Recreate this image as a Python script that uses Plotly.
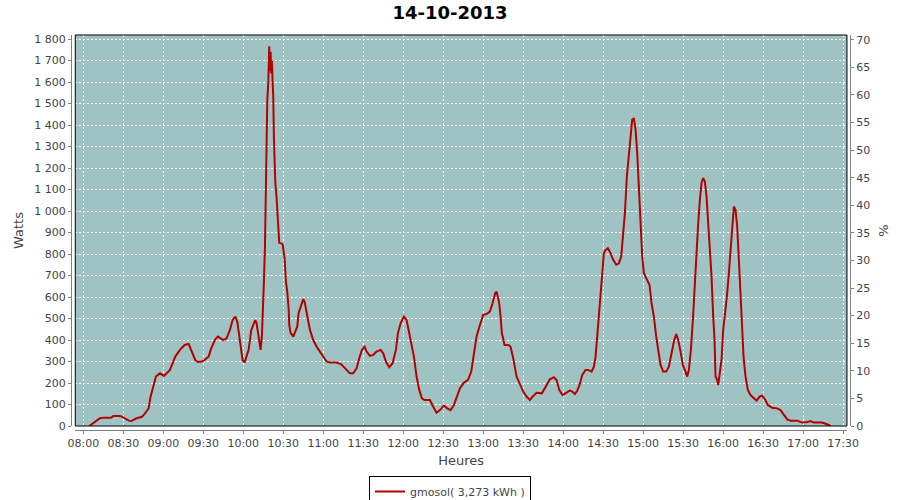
import pandas as pd
import plotly.graph_objects as go

# Time of each reading, in minutes after 08:00 on 14-10-2013
times_min = [
    4.5, 7.5, 12.5, 15, 21, 22.5, 27.5, 30, 34, 36, 40, 44, 46, 49, 50.5, 52.5, 54.5, 57.5,
    60.5, 65, 69, 72.5, 76, 79, 81, 84, 86, 89, 91, 94, 96, 99, 101, 105, 107.5, 110, 112,
    114, 115.5, 117.5, 119.5, 121, 124, 126, 129, 130, 132, 133, 134, 134.5, 135.5, 136.3,
    136.8, 137.5, 138, 138.8, 139.5, 140, 140.5, 141, 141.5, 142, 142.5, 143, 144, 145,
    146, 146.5, 147, 149.5, 150.5, 151, 152, 153, 154, 154.5, 155.5, 157.5, 159, 160.5,
    161.5, 163, 165, 166, 168, 170, 172.5, 175, 177.5, 180, 182.5, 185, 190, 193.5, 197.5,
    200, 202.5, 205, 207, 209, 211, 212.5, 215, 217.5, 220, 223, 225, 227, 229.5, 232,
    234.5, 236, 238, 240.5, 242.5, 244.5, 246, 248, 250, 252, 254, 256, 260, 262.5, 265,
    267.5, 270.5, 273, 275.5, 278, 280, 282.5, 285.5, 288.5, 291, 293, 295, 297.5, 300,
    302.5, 305, 307, 309, 310, 312, 313, 314, 316, 319, 320.5, 322.5, 325, 327.5, 330,
    332.5, 335, 337.5, 340, 344, 346, 350, 353, 355, 357, 359.5, 362.5, 365, 366.75,
    368.75, 370.5, 372.25, 374.25, 376.75, 378.75, 381.25, 383, 384.25, 385.5, 386.75,
    388, 389.25, 390.5, 391.75, 393.5, 395.5, 397.5, 399.75, 401.75, 403.5, 404.75,
    406.25, 407.75, 409.25, 410.5, 411.75, 413, 414.25, 415.5, 416.75, 418, 419.25,
    420.5, 423, 424.75, 426.25, 428, 429.75, 431.25, 433, 435, 437.25, 439.25, 441.25,
    443.25, 444.75, 446.25, 448, 449.75, 451.75, 453, 454.25, 455.75, 457.25, 458.75,
    460, 461.25, 462.5, 463.75, 465, 466.25, 467.5, 468.75, 470, 471.25, 472.5, 473.5,
    474.25, 475.5, 476.25, 477.25, 478.75, 480, 481.25, 482.75, 484.25, 485.75, 486.75,
    488, 489.25, 490.5, 491.75, 493, 494.25, 495.25, 496.75, 498.5, 500.5, 503, 505,
    507.25, 509.25, 511.25, 513.5, 516.75, 520.5, 523, 525.5, 528, 530.5, 535.5, 539.25,
    542.25, 545.5, 548, 554.25, 556.75, 559.25, 560.5,
]

# Power in watts
watts = [
    0, 15, 36, 39, 39, 47, 47, 40, 25, 23, 36, 43, 56, 82, 137, 183, 230, 245,
    233, 261, 323, 354, 377, 382, 354, 307, 298, 300, 307, 323, 362, 403, 416, 400, 408, 447, 493,
    509, 486, 400, 307, 296, 354, 447, 493, 478, 377, 354, 420, 549, 672, 843,
    1122, 1387, 1510, 1603, 1766, 1650, 1740, 1640, 1700, 1600, 1533, 1341, 1137, 1061,
    968, 881, 852, 847, 811, 780, 672, 625, 549, 470, 433, 416, 439, 462,
    525, 556, 590, 579, 509, 447, 400, 369, 346, 323, 300, 295, 295, 287, 261,
    245, 245, 268, 315, 354, 369, 346, 326, 331, 346, 354, 338, 300, 273, 292,
    354, 431, 478, 509, 493, 439, 385, 323, 230, 168, 129, 121, 121, 90, 62,
    74, 95, 82, 74, 98, 137, 175, 202, 214, 253, 331, 416, 470, 517,
    521, 532, 571, 618, 625, 571, 509, 431, 377, 377, 369, 315, 230, 191, 160,
    137, 121, 140, 155, 152, 175, 217, 227, 214, 168, 144, 155, 165, 160,
    149, 164, 191, 237, 261, 261, 253, 276, 323, 416, 525,
    618, 711, 804, 819, 827, 804, 773, 750, 757, 788, 881,
    990, 1161, 1254, 1347, 1425, 1432, 1378, 1269, 1099, 928, 788,
    711, 680, 656, 571, 509, 416, 354, 284, 253, 253, 276, 338,
    400, 428, 400, 346, 284, 253, 230, 261, 354, 493, 664,
    835, 943, 1052, 1130, 1153, 1137, 1068, 943, 835, 695, 509, 400,
    230, 214, 191, 230, 307, 447, 509, 602, 711, 850, 912,
    1021, 1006, 928, 773, 602, 447, 323, 230, 168, 144, 129, 118,
    137, 141, 124, 98, 85, 82, 74, 51, 31, 25, 25, 16,
    17, 23, 16, 16, 12, 5, 0,
]

series_name = "gmosol( 3,273 kWh )"
chart_title = "14-10-2013"
day_start = "2013-10-14 08:00:00"
x_start = "2013-10-14 07:54:00"
x_end = "2013-10-14 17:32:50"
watts_max = 1818.6
percent_max = 70.85

t0 = pd.Timestamp(day_start)
times = [t0 + pd.Timedelta(minutes=m) for m in times_min]

font_family = "DejaVu Sans"
label_color = "#444444"
axis_gray = "#808080"

fig = go.Figure()
fig.add_trace(go.Scatter(
    x=times, y=watts, mode="lines", name=series_name,
    line=dict(color="#B40000", width=2),
    showlegend=True,
))
# invisible trace to carry the right-hand % axis
fig.add_trace(go.Scatter(
    x=[times[0]], y=[0], yaxis="y2", mode="lines", showlegend=False,
    line=dict(color="rgba(0,0,0,0)"), hoverinfo="skip",
))

fig.update_layout(
    width=900, height=500,
    margin=dict(l=71, r=50, t=35, b=70, autoexpand=False),
    paper_bgcolor="white",
    plot_bgcolor="#9FC3C2",
    separators=", ",
    font=dict(family=font_family, size=11, color=label_color),
    title=dict(text=chart_title, x=0.5, xref="container", xanchor="center",
               y=0.974, yref="container", yanchor="middle",
               font=dict(family=font_family, size=18, color="black", weight="bold")),
    xaxis=dict(
        domain=[0.0055, 0.9961],
        anchor="free", position=0,
        type="date",
        range=[x_start, x_end],
        tick0=day_start, dtick=30 * 60 * 1000,
        tickformat="%H:%M",
        showgrid=True, gridcolor="white", griddash="2px,2px", gridwidth=1,
        showline=True, linecolor=axis_gray, linewidth=1,
        ticks="outside", ticklen=3, tickcolor=axis_gray,
        zeroline=False, automargin=True,
        title=dict(text="Heures", font=dict(size=13, color=label_color), standoff=6),
    ),
    yaxis=dict(
        domain=[0.0101, 1],
        anchor="free", position=0,
        range=[0, watts_max],
        dtick=100, tick0=0, tickformat=",d",
        showgrid=True, gridcolor="white", griddash="2px,2px", gridwidth=1,
        showline=True, linecolor=axis_gray, linewidth=1,
        ticks="outside", ticklen=3, tickcolor=axis_gray,
        zeroline=False, automargin=True,
        title=dict(text="Watts", font=dict(size=13, color=label_color), standoff=6),
    ),
    yaxis2=dict(
        overlaying="y", side="right",
        anchor="free", position=1,
        range=[0, percent_max],
        dtick=5, tick0=0,
        showgrid=False,
        showline=True, linecolor=axis_gray, linewidth=1,
        ticks="outside", ticklen=3, tickcolor=axis_gray,
        zeroline=False, automargin=True,
        title=dict(text="%", font=dict(size=13, color=label_color), standoff=9),
    ),
    legend=dict(
        orientation="h",
        x=0.5, xref="container", xanchor="center",
        y=0.048, yref="container", yanchor="top",
        bordercolor="black", borderwidth=1, bgcolor="white",
        font=dict(size=11, color=label_color),
        itemwidth=30,
    ),
    shapes=[dict(type="rect", xref="x domain", yref="y domain",
                 x0=0, x1=1, y0=0, y1=1,
                 line=dict(color="black", width=1), layer="above")],
)

fig.write_html("out.html", config={"displayModeBar": False},
               post_script="document.body.style.margin='0px';")
